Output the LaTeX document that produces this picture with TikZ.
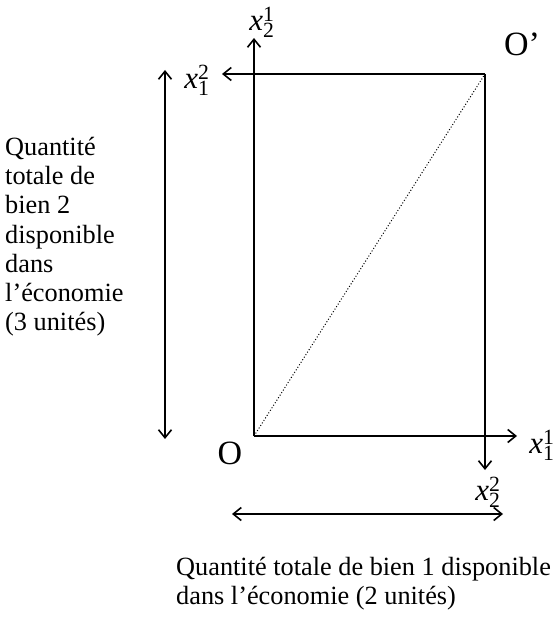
\documentclass[tikz,border=0pt]{standalone}
\usepackage{fontspec}
\setmainfont{Liberation Serif}
\usetikzlibrary{arrows.meta}
\newcommand\xlab[2]{\textit{x}$^{\mathrm{#1}}_{\mathrm{#2}}$}
\begin{document}
\begin{tikzpicture}[x=1pt,y=-1pt,
  axis/.style={line width=1.6pt,-{Straight Barb[length=8pt,width=13pt,line width=1.6pt]}},
  dbl/.style={line width=1.8pt,{Straight Barb[length=8pt,width=13pt,line width=1.6pt]}-{Straight Barb[length=8pt,width=13pt,line width=1.6pt]}},
  lab/.style={font=\fontsize{31}{34}\selectfont, inner sep=0pt},
  body/.style={font=\fontsize{26.3}{29.2}\selectfont, align=left, inner sep=0pt, anchor=north west}
]
\useasboundingbox (0,0) rectangle (558,617);
\coordinate (O) at (254,436);
\coordinate (Op) at (485,74);
\coordinate (y1) at (254,38);
\coordinate (x1) at (517,436);
\coordinate (x2) at (222,74);
\coordinate (y2) at (485,470);
\coordinate (la) at (165,70);
\coordinate (lb) at (165,439);
\coordinate (ba) at (232,514);
\coordinate (bb) at (503,514);
\draw[dotted, line width=1pt] (O) -- (Op);
\draw[axis] (O) -- (y1);
\draw[axis] (O) -- (x1);
\draw[axis] (Op) -- (x2);
\draw[axis] (Op) -- (y2);
\draw[dbl] (la) -- (lb);
\draw[dbl] (ba) -- (bb);
\node[lab] (lx21) at (262,22) {\xlab{1}{2}};
\node[lab] (lx12) at (197,80) {\xlab{2}{1}};
\node[lab] (lx11) at (542,445) {\xlab{1}{1}};
\node[lab] (lx22) at (488,492) {\xlab{2}{2}};
\node[font=\fontsize{34}{38}\selectfont, inner sep=0pt] (lO) at (230,453) {O};
\node[font=\fontsize{34}{38}\selectfont, inner sep=0pt] (lOp) at (522,44) {O’};
\node[body] (tleft) at (5,137) {Quantité\\totale de\\bien 2\\disponible\\dans\\l’économie\\(3 unités)};
\node[body] (tbot) at (176,557) {Quantité totale de bien 1 disponible\\dans l’économie (2 unités)};
\end{tikzpicture}
\end{document}
